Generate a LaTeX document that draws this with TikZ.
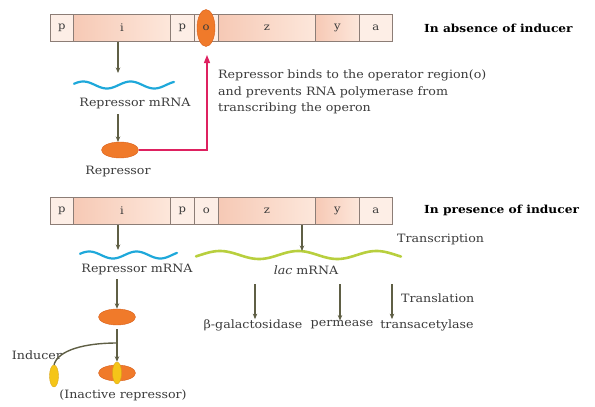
\documentclass[tikz,border=0pt]{standalone}
\usepackage{fontspec}
\setmainfont{DejaVu Serif}[FakeStretch=1.1]
\usetikzlibrary{arrows.meta,shapes.geometric}
\definecolor{segline}{HTML}{8C7D76}
\definecolor{peachA}{HTML}{F6C9B5}
\definecolor{peachB}{HTML}{FDE7DB}
\definecolor{light}{HTML}{FDEEE6}
\definecolor{orng}{HTML}{F07A2A}
\definecolor{orngd}{HTML}{D9611C}
\definecolor{yel}{HTML}{F5C518}
\definecolor{yeld}{HTML}{D9A514}
\definecolor{arr}{HTML}{5F5F45}
\definecolor{redarr}{HTML}{DE2160}
\definecolor{cyanw}{HTML}{1EA8DA}
\definecolor{greenw}{HTML}{B8CF3E}
\definecolor{txt}{HTML}{3A3A3A}
\tikzset{
  seg/.style={draw=segline, line width=0.8pt, minimum height=27pt, inner sep=0pt, anchor=west, font=\fontsize{10.5}{12}\selectfont, text=txt},
  segL/.style={seg, fill=light},
  segS/.style={seg, left color=peachA, right color=peachB},
  flow/.style={draw=arr, line width=1.3pt, -{Stealth[length=5.5pt,width=4.5pt]}},
  lbl/.style={font=\fontsize{11.5}{13}\selectfont, text=txt, inner sep=0pt},
  head/.style={font=\bfseries\fontsize{11.1}{13}\selectfont, text=black, inner sep=0pt, anchor=west},
  repr/.style={ellipse, fill=orng, draw=orngd, line width=0.4pt, minimum width=37pt, minimum height=16pt, inner sep=0pt},
  ind/.style={ellipse, fill=yel, draw=yeld, line width=0.4pt, minimum width=9pt, minimum height=22pt, inner sep=0pt},
}
\begin{document}
\begin{tikzpicture}[x=1pt,y=-1pt]
\useasboundingbox (0,0) rectangle (595,407);
% ---------- top operon ----------
\node[segL, minimum width=23pt] (tp1) at (50,28) {p};
\node[segS, minimum width=97pt] (ti) at (73,28) {i};
\node[segL, minimum width=24pt] (tp2) at (170,28) {p};
\node[segL, minimum width=24pt] (to) at (194,28) {};
\node[segS, minimum width=97pt] (tz) at (218,28) {z};
\node[segS, minimum width=44pt] (ty) at (315,28) {y};
\node[segL, minimum width=33pt] (ta) at (359,28) {a};
\node[ellipse, fill=orng, draw=orngd, minimum width=18pt, minimum height=37pt, inner sep=0pt, font=\fontsize{10.5}{12}\selectfont, text=txt] (tob) at (206,28) {o};
\node[head] (habs) at (424,28) {In absence of inducer};
% waves
\draw[cyanw, line width=2.2pt, line cap=round, domain=0:100, samples=60] plot ({74+\x},{85+3.5*sin(\x*7.6+200)});
\coordinate (tw) at (118,73);
\node[lbl] (tmrna) at (135,104) {Repressor mRNA};
\node[repr] (trep) at (120,150) {};
\node[lbl] (treplbl) at (118,172) {Repressor};
\draw[flow] (118,42) -- (tw);
\draw[flow] (118,114) -- (118,142);
\coordinate (rtip) at (207,55);
\draw[redarr, line width=1.3pt, -{Triangle[length=8pt,width=6pt]}] (trep.east) -| (rtip);
\node[lbl, anchor=west, align=left, font=\fontsize{11.5}{16.5}\selectfont] (note) at (218,92) {Repressor binds to the operator region(o)\\and prevents RNA polymerase from\\transcribing the operon};
% ---------- bottom operon ----------
\node[segL, minimum width=23pt] (bp1) at (50,211) {p};
\node[segS, minimum width=97pt] (bi) at (73,211) {i};
\node[segL, minimum width=24pt] (bp2) at (170,211) {p};
\node[segL, minimum width=24pt] (bo) at (194,211) {o};
\node[segS, minimum width=97pt] (bz) at (218,211) {z};
\node[segS, minimum width=44pt] (by) at (315,211) {y};
\node[segL, minimum width=33pt] (ba) at (359,211) {a};
\node[head] (hpre) at (424,210) {In presence of inducer};
\node[lbl, anchor=west] (transc) at (397,239) {Transcription};
\draw[cyanw, line width=2.2pt, line cap=round, domain=0:97, samples=60] plot ({80+\x},{255+3.5*sin(\x*7.6+200)});
\draw[greenw, line width=2.6pt, line cap=round, domain=0:205, samples=100] plot ({196+\x},{255+4*sin(\x*4.6+160)});
\coordinate (bw1) at (118,250);
\coordinate (bw2) at (302,251);
\draw[flow] (118,225) -- (bw1);
\draw[flow] (302,225) -- (bw2);
\node[lbl] (bmrna) at (137,270) {Repressor mRNA};
\node[lbl] (lac) at (306,270) {\textit{lac} mRNA};
\node[repr] (brep) at (117,317) {};
\draw[flow] (117,279) -- (brep.north);
\node[repr] (inact) at (117,373) {};
\node[ind] (inactY) at (117,373) {};
\draw[flow] (brep.south) ++(0,4) -- (inactY.north);
\node[ind] (inducer) at (54,376) {};
\node[lbl] (indlbl) at (37,355) {Inducer};
\draw[arr, line width=1.4pt] (inducer.north) .. controls (58,350) and (85,343) .. (117,343);
\node[lbl] (inactlbl) at (123,395) {(Inactive repressor)};
% translation
\node[lbl] (beta) at (253,325) {β-galactosidase};
\node[lbl] (perm) at (342,325) {permease};
\node[lbl] (trans) at (427,325) {transacetylase};
\draw[flow] (255,284) -- (beta.north -| 255,0);
\draw[flow] (340,284) -- (perm.north -| 340,0);
\draw[flow] (392,284) -- (trans.north -| 392,0);
\node[lbl, anchor=west] (transl) at (401,298) {Translation};
\end{tikzpicture}
\end{document}
